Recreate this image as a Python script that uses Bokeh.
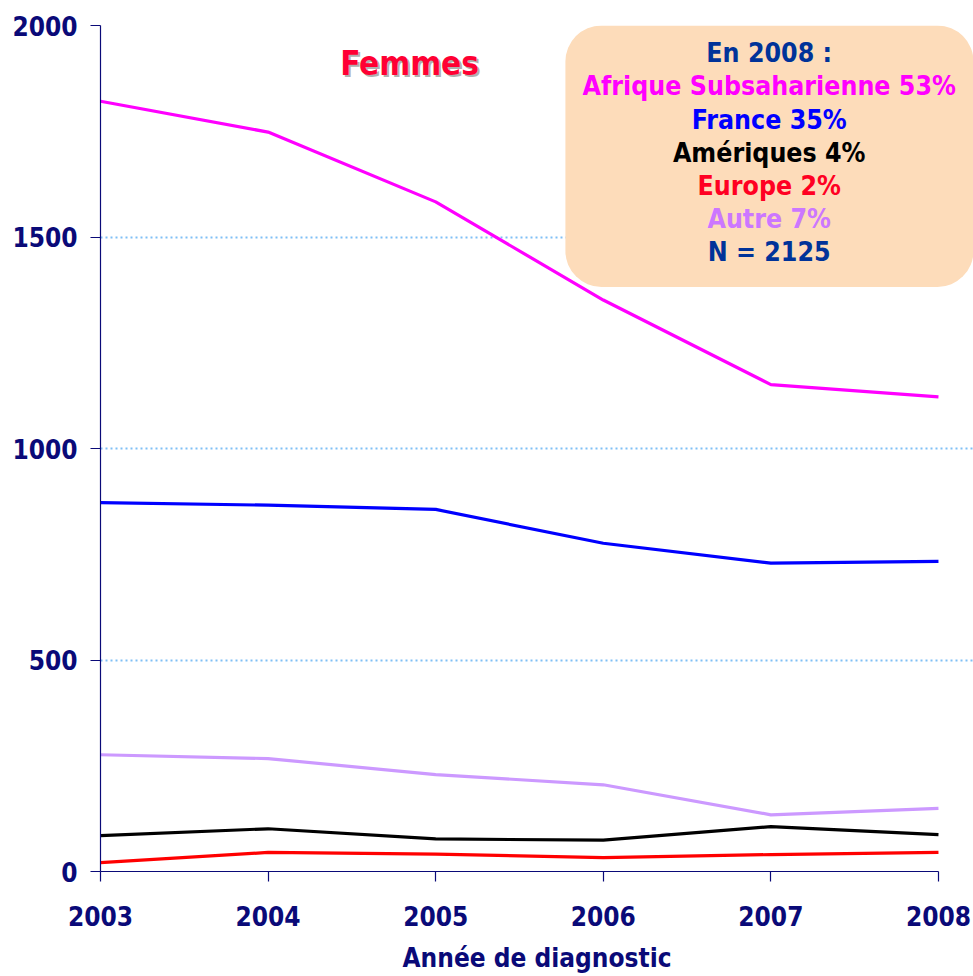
from bokeh.plotting import figure
from bokeh.models import Range1d, Label, BoxAnnotation, FixedTicker
from bokeh.embed import file_html
from bokeh.resources import INLINE

years = [2003, 2004, 2005, 2006, 2007, 2008]
afrique = [1821, 1748, 1583, 1351, 1151, 1122]
france = [872, 866, 856, 776, 729, 733]
autre = [276, 267, 229, 205, 134, 149]
ameriques = [85, 101, 77, 74, 106, 87]
europe = [21, 45, 41, 33, 40, 45]

series = [
    (afrique, "#FF00FF"),
    (france, "#0000FF"),
    (autre, "#CC99FF"),
    (ameriques, "#000000"),
    (europe, "#FF0000"),
]

y_ticks = [0, 500, 1000, 1500, 2000]
legend_lines = ["En 2008 :", "Afrique Subsaharienne 53%", "France 35%",
                "Amériques 4%", "Europe 2%", "Autre 7%", "N = 2125"]
legend_colors = ["#003399", "#FF00FF", "#0000FF", "#000000", "#FF0022", "#CC77FF", "#003399"]
title_text = "Femmes"
x_label = "Année de diagnostic"

FONT = "DejaVu Sans Condensed"
NAVY = "#0A0A78"

p = figure(width=973, height=975, output_backend="svg", toolbar_location=None,
           x_range=Range1d(2003, 2008.209), y_range=Range1d(0, 2000),
           min_border_left=100, min_border_right=0, min_border_top=25, min_border_bottom=102)
p.outline_line_color = None
p.background_fill_color = "white"

# grid
p.xgrid.grid_line_color = None
p.ygrid.ticker = FixedTicker(ticks=y_ticks)
p.ygrid.grid_line_color = "#7FBFF5"
p.ygrid.grid_line_dash = "2 3"
p.ygrid.grid_line_width = 2
p.ygrid.bounds = (2003, 2008)

# axes
p.xaxis.ticker = FixedTicker(ticks=years)
p.yaxis.ticker = FixedTicker(ticks=y_ticks)
p.xaxis.bounds = (2003, 2008)
for ax in (p.xaxis, p.yaxis):
    ax.axis_line_color = NAVY
    ax.axis_line_width = 1.2
    ax.major_tick_line_color = NAVY
    ax.major_tick_line_width = 1.2
    ax.major_tick_out = 10
    ax.major_tick_in = 0
    ax.minor_tick_line_color = None
    ax.major_label_text_font = FONT
    ax.major_label_text_font_style = "bold"
    ax.major_label_text_font_size = "26px"
    ax.major_label_text_color = NAVY
p.yaxis.major_label_standoff = 13
p.xaxis.major_label_standoff = 24
p.xaxis.axis_label = x_label
p.xaxis.axis_label_text_font = FONT
p.xaxis.axis_label_text_font_style = "bold"
p.xaxis.axis_label_text_font_size = "26px"
p.xaxis.axis_label_text_color = NAVY
p.xaxis.axis_label_standoff = 14

# info box
box = BoxAnnotation(left=2005.774, right=2008.209, top=2000, bottom=1382,
                    fill_color="#FDDCBA", fill_alpha=1.0, line_color=None,
                    border_radius=36, level="underlay")
p.add_layout(box)

for vals, col in series:
    p.line(years, vals, line_color=col, line_width=3.2)

# title with shadow
p.add_layout(Label(x=2004.856, y=1905, text=title_text, text_align="center",
                   text_baseline="alphabetic", text_font=FONT, text_font_style="bold",
                   text_font_size="33px", text_color="#B0B0B0"))
p.add_layout(Label(x=2004.844, y=1910, text=title_text, text_align="center",
                   text_baseline="alphabetic", text_font=FONT, text_font_style="bold",
                   text_font_size="33px", text_color="#FF0033"))

y0 = 1936
step = 33.3 / 0.424
for i, (t, c) in enumerate(zip(legend_lines, legend_colors)):
    p.add_layout(Label(x=2006.99, y=y0 - i * step, text=t, text_align="center",
                       text_baseline="alphabetic", text_font=FONT,
                       text_font_style="bold", text_font_size="26.5px", text_color=c))

open("out.html", "w").write(file_html(p, INLINE))
